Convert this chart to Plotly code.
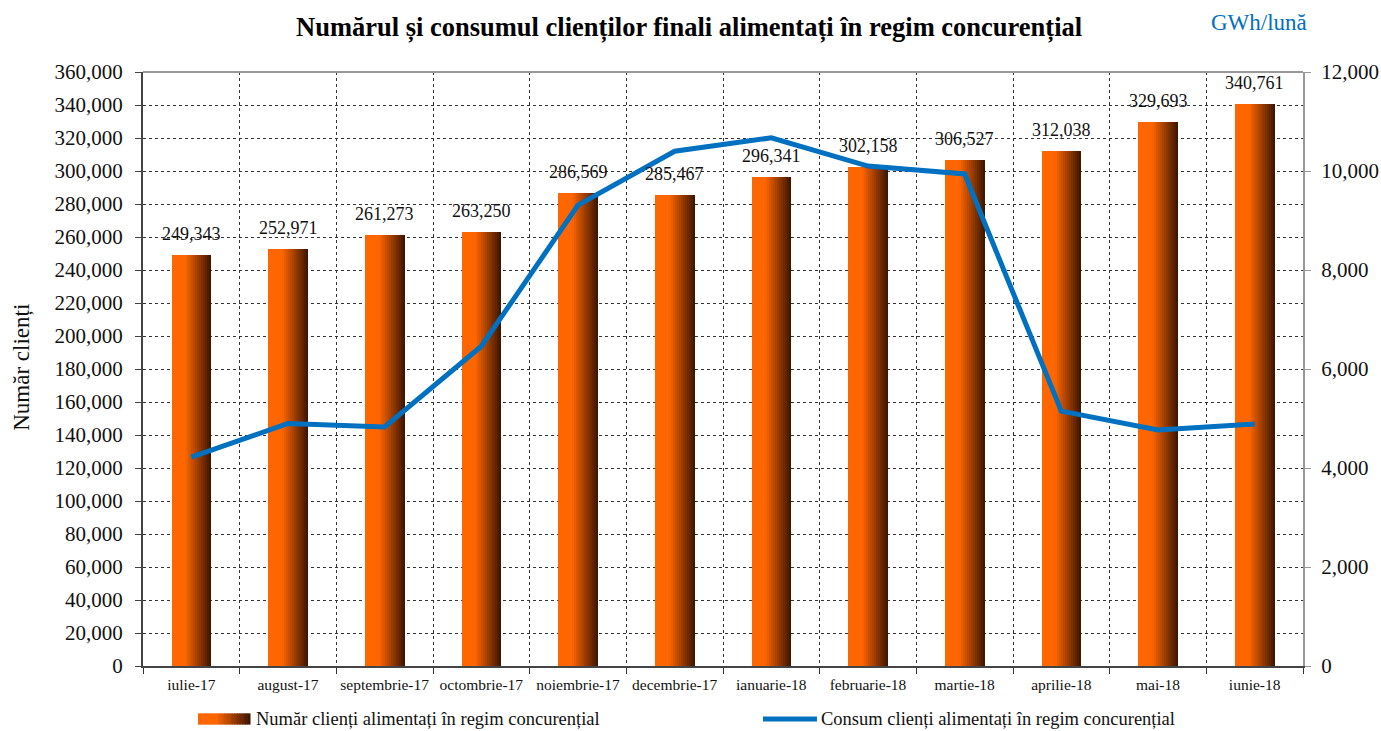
import plotly.graph_objects as go

months = ["iulie-17", "august-17", "septembrie-17", "octombrie-17", "noiembrie-17", "decembrie-17",
          "ianuarie-18", "februarie-18", "martie-18", "aprilie-18", "mai-18", "iunie-18"]
clients = [249343, 252971, 261273, 263250, 286569, 285467, 296341, 302158, 306527, 312038, 329693, 340761]
consum = [4220, 4900, 4830, 6460, 9310, 10400, 10670, 10100, 9940, 5150, 4770, 4890]

bar_name = "Număr clienți alimentați în regim concurențial"
line_name = "Consum clienți alimentați în regim concurențial"

FONT = "Liberation Serif, Times New Roman, serif"
ORANGE = (255, 102, 0)
DARK = (58, 20, 0)
BLUE = "#0070C0"

def grad_color(t):
    # solid orange on left ~35%, then linear to dark brown
    s = 0.0 if t < 0.35 else (t - 0.35) / 0.65
    c = [round(ORANGE[k] + (DARK[k] - ORANGE[k]) * s) for k in range(3)]
    return f"rgb({c[0]},{c[1]},{c[2]})"

fig = go.Figure()

N = 20
BW = 0.41
sw = BW / N
for i in range(N):
    fig.add_trace(go.Bar(
        x=months, y=clients, width=sw * 1.05, offset=-BW / 2 + i * sw,
        marker=dict(color=grad_color((i + 0.5) / N), line=dict(width=0)),
        showlegend=False, hoverinfo="skip", name=bar_name,
    ))

fig.add_trace(go.Scatter(
    x=months, y=consum, yaxis="y2", mode="lines",
    line=dict(color=BLUE, width=5), name=line_name, showlegend=False,
))

for m, v in zip(months, clients):
    fig.add_annotation(x=m, y=v, text=f"{v:,}", showarrow=False, xanchor="center",
                       yanchor="bottom", yshift=9, font=dict(family=FONT, size=18, color="#111"))

# title & unit
fig.add_annotation(xref="paper", yref="paper", x=0.4707, y=1, yshift=45, xanchor="center",
                   yanchor="middle",
                   text="<b>Numărul și consumul clienților finali alimentați în regim concurențial</b>",
                   showarrow=False, font=dict(family=FONT, size=26.5, color="#000"))
fig.add_annotation(xref="paper", yref="paper", x=0.962, y=1, yshift=50, xanchor="center",
                   yanchor="middle", text="GWh/lună", showarrow=False,
                   font=dict(family=FONT, size=23, color=BLUE))
# y axis title
fig.add_annotation(xref="paper", yref="paper", x=-0.1043, y=0.502, textangle=-90,
                   xanchor="center", yanchor="middle", text="Număr clienți", showarrow=False,
                   font=dict(family=FONT, size=23, color="#111"))

# custom legend
LY = -0.0892
lx0 = 0.0474
lw = 0.0448
nl = 20
for i in range(nl):
    fig.add_shape(type="rect", xref="paper", yref="paper",
                  x0=lx0 + i * lw / nl, x1=lx0 + (i + 1) * lw / nl + 0.0005,
                  y0=LY - 0.0095, y1=LY + 0.0095, line=dict(width=0),
                  fillcolor=grad_color((i + 0.5) / nl))
fig.add_annotation(xref="paper", yref="paper", x=0.0960, y=LY, xanchor="left",
                   yanchor="middle", text=bar_name, showarrow=False,
                   font=dict(family=FONT, size=18.5, color="#111"))
fig.add_shape(type="line", xref="paper", yref="paper", x0=0.5345, x1=0.581, y0=LY, y1=LY,
              line=dict(color=BLUE, width=5))
fig.add_annotation(xref="paper", yref="paper", x=0.5830, y=LY, xanchor="left",
                   yanchor="middle", text=line_name, showarrow=False,
                   font=dict(family=FONT, size=18.5, color="#111"))

# top border
fig.add_shape(type="line", xref="paper", yref="paper", x0=0, x1=1, y0=1, y1=1,
              line=dict(color="#999", width=2))

fig.update_layout(
    width=1381, height=731,
    margin=dict(l=143, r=78, t=72, b=65),
    paper_bgcolor="white", plot_bgcolor="white",
    barmode="overlay", bargap=0,
    font=dict(family=FONT, color="#111"),
    xaxis=dict(type="category", tickson="boundaries", showgrid=True, gridcolor="#333",
               griddash="dot", gridwidth=1, ticks="outside", ticklen=6, tickcolor="#333",
               showline=True, linecolor="#444", linewidth=2, tickangle=0, automargin=False,
               ticklabelstandoff=3,
               tickfont=dict(family=FONT, size=15.5, color="#111"), range=[-0.5, 11.5]),
    yaxis=dict(range=[0, 360000], dtick=20000, tickformat=",d", showgrid=True,
               gridcolor="#333", griddash="dot", gridwidth=1, ticks="outside", ticklen=6,
               tickcolor="#444", showline=True, linecolor="#444", linewidth=2,
               automargin=False, ticklabelstandoff=8,
               tickfont=dict(family=FONT, size=21, color="#111"), zeroline=False),
    yaxis2=dict(range=[0, 12000], dtick=2000, tickformat=",d", overlaying="y", side="right",
                showgrid=False, ticks="outside", ticklen=6, tickcolor="#999",
                showline=True, linecolor="#999", linewidth=2, zeroline=False,
                automargin=False, ticklabelstandoff=6,
                tickfont=dict(family=FONT, size=21, color="#111")),
    showlegend=False,
)

fig.write_html("out.html", config={"displayModeBar": False},
               post_script="document.body.style.margin='0';")
